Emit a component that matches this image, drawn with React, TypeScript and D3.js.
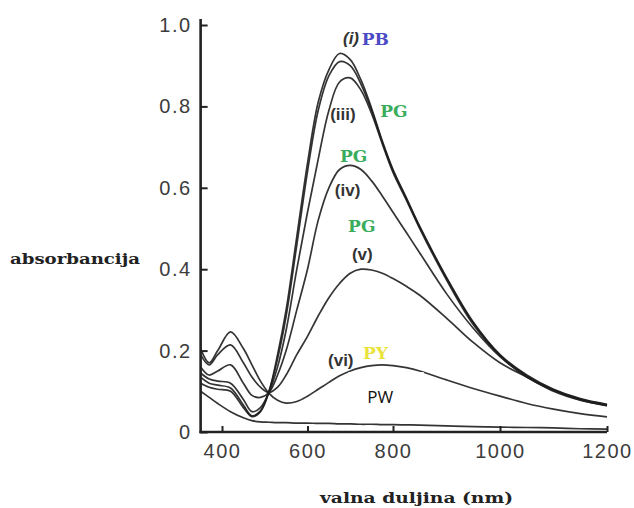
import { useEffect, useRef } from "react";
import * as d3 from "d3";

// wavelength grid (nm) shared by every spectrum
const WAVELENGTHS = [350, 370, 390, 420, 450, 470, 490, 510, 530, 550, 575, 600, 625, 650, 675, 700, 725, 750, 775, 800, 825, 850, 900, 950, 1000, 1050, 1100, 1150, 1200];

const CURVE_I = [0.12, 0.11, 0.105, 0.1, 0.06, 0.038, 0.05, 0.1, 0.19, 0.3, 0.48, 0.66, 0.81, 0.89, 0.93, 0.915, 0.865, 0.795, 0.715, 0.645, 0.575, 0.505, 0.38, 0.27, 0.19, 0.14, 0.105, 0.082, 0.068];
const CURVE_II = [0.135, 0.12, 0.115, 0.108, 0.066, 0.04, 0.052, 0.1, 0.18, 0.285, 0.46, 0.64, 0.79, 0.875, 0.91, 0.9, 0.855, 0.79, 0.712, 0.642, 0.573, 0.503, 0.378, 0.268, 0.189, 0.138, 0.104, 0.081, 0.067];
const CURVE_III = [0.145, 0.13, 0.125, 0.12, 0.08, 0.05, 0.06, 0.098, 0.16, 0.25, 0.4, 0.54, 0.67, 0.79, 0.86, 0.87, 0.84, 0.782, 0.708, 0.638, 0.57, 0.5, 0.374, 0.264, 0.187, 0.135, 0.102, 0.079, 0.065];
const CURVE_IV = [0.16, 0.14, 0.15, 0.165, 0.12, 0.09, 0.085, 0.097, 0.14, 0.2, 0.3, 0.4, 0.52, 0.6, 0.645, 0.655, 0.645, 0.617, 0.58, 0.54, 0.49, 0.44, 0.34, 0.255, 0.185, 0.136, 0.103, 0.08, 0.066];
const CURVE_V = [0.19, 0.165, 0.19, 0.214, 0.17, 0.135, 0.11, 0.097, 0.11, 0.14, 0.19, 0.235, 0.285, 0.33, 0.365, 0.39, 0.4, 0.398, 0.39, 0.377, 0.358, 0.336, 0.28, 0.22, 0.17, 0.135, 0.1, 0.078, 0.065];
const CURVE_VI = [0.205, 0.17, 0.2, 0.246, 0.205, 0.165, 0.125, 0.095, 0.078, 0.071, 0.075, 0.088, 0.105, 0.122, 0.138, 0.15, 0.158, 0.163, 0.165, 0.163, 0.158, 0.15, 0.128, 0.107, 0.088, 0.07, 0.056, 0.045, 0.037];
const CURVE_PW = [0.1, 0.085, 0.07, 0.05, 0.035, 0.028, 0.025, 0.024, 0.023, 0.023, 0.022, 0.022, 0.021, 0.021, 0.02, 0.02, 0.019, 0.019, 0.018, 0.018, 0.0175, 0.017, 0.015, 0.013, 0.012, 0.011, 0.01, 0.008, 0.007];

const X_TICKS = [400, 600, 800, 1000, 1200];
const Y_TICKS = [0, 0.2, 0.4, 0.6, 0.8, 1.0];

// annotations: [text, wavelength, absorbance, kind]
const LABELS: [string, number, number, string][] = [
  ["(i)", 683, 0.953, "num"],
  ["PB", 727, 0.951, "blue"],
  ["(iii)", 653, 0.767, "num"],
  ["PG", 770, 0.774, "green"],
  ["PG", 676, 0.663, "green"],
  ["(iv)", 664, 0.58, "num"],
  ["PG", 695, 0.491, "green"],
  ["(v)", 704, 0.423, "num"],
  ["(vi)", 648, 0.162, "num"],
  ["PY", 730, 0.179, "yellow"],
];

const LABEL_COLORS: Record<string, string> = {
  num: "#333",
  blue: "#4b4bc6",
  green: "#3aad5c",
  yellow: "#e9e23a",
};

export default function App() {
  const ref = useRef<SVGSVGElement>(null);

  useEffect(() => {
    if (!ref.current) return;
    const w = 634;
    const h = 508;
    const svg = d3.select(ref.current);
    svg.selectAll("*").remove();
    svg.attr("width", w).attr("height", h).attr("viewBox", `0 0 ${w} ${h}`);
    svg.append("rect").attr("width", w).attr("height", h).attr("fill", "#fff");

    // the source figure is stretched unevenly, so the x scale is piecewise
    const x = d3.scaleLinear().domain([400, 800, 1200]).range([222, 393, 607]);
    const y = d3.scaleLinear().domain([0, 1]).range([432, 25]);

    const line = d3
      .line<number>()
      .x((_, i) => x(WAVELENGTHS[i]))
      .y((d) => y(d))
      .curve(d3.curveCatmullRom.alpha(0.5));

    const curves = [CURVE_I, CURVE_II, CURVE_III, CURVE_IV, CURVE_V, CURVE_VI, CURVE_PW];
    svg
      .append("g")
      .selectAll("path")
      .data(curves)
      .join("path")
      .attr("d", (d) => line(d))
      .attr("fill", "none")
      .attr("stroke", "#1e1e1e")
      .attr("stroke-width", 1.7)
      .attr("stroke-opacity", 0.9);

    // white patch with PW label
    svg
      .append("rect")
      .attr("x", x(695))
      .attr("y", y(0.147))
      .attr("width", x(858) - x(695))
      .attr("height", y(0.044) - y(0.147))
      .attr("fill", "#fff");
    svg
      .append("text")
      .attr("x", x(740))
      .attr("y", y(0.071))
      .attr("font-family", "'Open Sans', 'Liberation Sans', sans-serif")
      .attr("font-size", 17)
      .attr("fill", "#111")
      .text("PW");

    // axes
    const yAxis = svg
      .append("g")
      .attr("transform", `translate(${x(350)},0)`)
      .call(
        d3
          .axisLeft(y)
          .tickValues(Y_TICKS)
          .tickSizeInner(-7)
          .tickSizeOuter(0)
          .tickPadding(9)
          .tickFormat((d) => (d === 0 ? "0" : d3.format(".1f")(d as number)))
      );
    const xAxis = svg
      .append("g")
      .attr("transform", `translate(0,${y(0)})`)
      .call(d3.axisBottom(x).tickValues(X_TICKS).tickSizeInner(-6).tickSizeOuter(0).tickPadding(12).tickFormat(d3.format("d")));

    [yAxis, xAxis].forEach((g) => {
      g.select(".domain").remove();
      g.selectAll(".tick line").attr("stroke", "#222").attr("stroke-width", 2);
      g.selectAll(".tick text")
        .attr("font-family", "'Liberation Sans', Arial, sans-serif")
        .attr("font-size", 20)
        .attr("letter-spacing", 1.5)
        .attr("fill", "#3c3c3c");
    });

    svg.append("line").attr("x1", x(350)).attr("x2", x(350)).attr("y1", 19).attr("y2", y(0) + 1.2).attr("stroke", "#222").attr("stroke-width", 2.6);
    svg.append("line").attr("x1", x(350) - 1.2).attr("x2", x(1200)).attr("y1", y(0)).attr("y2", y(0)).attr("stroke", "#222").attr("stroke-width", 2.6);

    // curve annotations
    svg
      .append("g")
      .selectAll("text")
      .data(LABELS)
      .join("text")
      .attr("x", (d) => x(d[1]))
      .attr("y", (d) => y(d[2]))
      .attr("font-family", (d) => (d[3] === "num" ? "'Liberation Sans', Arial, sans-serif" : "'DejaVu Serif', serif"))
      .attr("font-weight", "bold")
      .attr("font-style", (d) => (d[0] === "(i)" ? "italic" : "normal"))
      .attr("font-size", 17)
      .attr("fill", (d) => LABEL_COLORS[d[3]])
      .text((d) => d[0]);

    // axis titles
    svg
      .append("text")
      .attr("x", 10)
      .attr("y", 264)
      .attr("font-family", "'DejaVu Serif', serif")
      .attr("font-weight", "bold")
      .attr("font-size", 15)
      .attr("textLength", 130)
      .attr("lengthAdjust", "spacingAndGlyphs")
      .attr("fill", "#222")
      .text("absorbancija");
    svg
      .append("text")
      .attr("x", 320)
      .attr("y", 503)
      .attr("font-family", "'DejaVu Serif', serif")
      .attr("font-weight", "bold")
      .attr("font-size", 15)
      .attr("textLength", 193)
      .attr("lengthAdjust", "spacingAndGlyphs")
      .attr("fill", "#222")
      .text("valna duljina (nm)");
  }, []);

  return <svg ref={ref} style={{ position: "absolute", left: 0, top: 0, display: "block" }} />;
}
